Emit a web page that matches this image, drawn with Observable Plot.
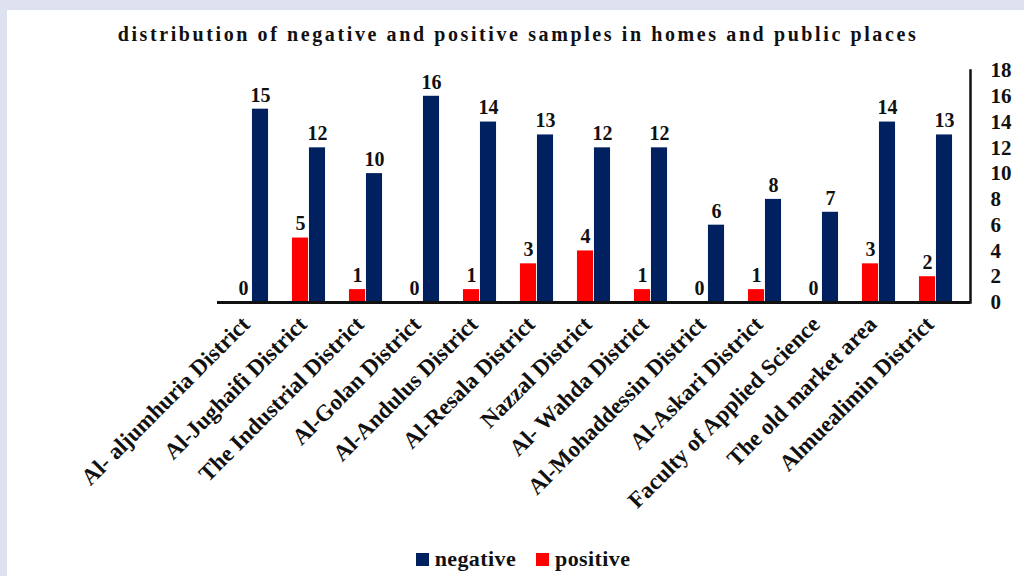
<!DOCTYPE html>
<html>
<head>
<meta charset="utf-8">
<script src="https://cdn.jsdelivr.net/npm/d3@7"></script>
<script src="https://cdn.jsdelivr.net/npm/@observablehq/plot@0.6"></script>
<style>
  html, body { margin: 0; padding: 0; width: 1024px; height: 576px; overflow: hidden; background: #dde1f0; }
  #panel { position: absolute; left: 7px; top: 10px; width: 1017px; height: 566px; background: #ffffff; }
  #title { position: absolute; left: 6px; top: 22px; width: 1024px; text-align: center;
    font-family: "Liberation Serif", "Times New Roman", serif; font-weight: bold; font-size: 20px; letter-spacing: 2.6px; color: #111; line-height: 24px; }
  #chart { position: absolute; left: 0; top: 50px; }
  #legend { position: absolute; left: 0; top: 546px; width: 1046px; text-align: center;
    font-family: "Liberation Serif", "Times New Roman", serif; font-weight: bold; font-size: 22px; letter-spacing: 0.4px; color: #111; line-height: 26px; }
  .item { display: inline-block; margin: 0 10px; }
  .sw { display: inline-block; width: 13px; height: 13px; margin-right: 6px; vertical-align: 0px; }
</style>
</head>
<body>
<div id="panel"></div>
<div id="title"></div>
<div id="chart"></div>
<div id="legend"></div>
<script>
const title = "distribution of negative and positive samples in homes and public places";
const categories = [
  "Al- aljumhuria District",
  "Al-Jughaifi District",
  "The Industrial District",
  "Al-Golan District",
  "Al-Andulus District",
  "Al-Resala District",
  "Nazzal District",
  "Al- Wahda District",
  "Al-Mohaddessin District",
  "Al-Askari District",
  "Faculty of Applied Science",
  "The old market area",
  "Almuealimin District"
];
const negative = [15, 12, 10, 16, 14, 13, 12, 12, 6, 8, 7, 14, 13];
const positive = [0, 5, 1, 0, 1, 3, 4, 1, 0, 1, 0, 3, 2];
const yTicks = [0, 2, 4, 6, 8, 10, 12, 14, 16, 18];
const seriesNames = ["negative", "positive"];
const seriesColors = ["#002060", "#ff0000"];

const rows = categories.map((c, i) => ({category: c, negative: negative[i], positive: positive[i]}));

const width = 1024, height = 470;
const mL = 217, mR = 54, mT = 20, mB = 218;
const step = (width - mL - mR) / categories.length;
const half = step / 2;
const bw = 17;

document.getElementById("title").textContent = title;

const chart = Plot.plot({
  width, height,
  marginLeft: mL, marginRight: mR, marginTop: mT, marginBottom: mB,
  style: {fontFamily: "'Liberation Serif', 'Times New Roman', serif", fontWeight: "bold", color: "#111", background: "transparent"},
  x: {domain: categories, padding: 0, label: null},
  y: {domain: [0, 18], label: null},
  marks: [
    Plot.barY(rows, {x: "category", y: "positive", fill: seriesColors[1], insetLeft: half - bw, insetRight: half}),
    Plot.barY(rows, {x: "category", y: "negative", fill: seriesColors[0], insetLeft: half, insetRight: half - bw}),
    Plot.text(rows, {x: "category", y: "positive", text: d => String(d.positive), dx: -bw / 2, dy: -14, fontSize: 20, fill: "#111"}),
    Plot.text(rows, {x: "category", y: "negative", text: d => String(d.negative), dx: bw / 2, dy: -14, fontSize: 20, fill: "#111"}),
    Plot.ruleY([0], {stroke: "#111", strokeWidth: 3}),
    Plot.frame({anchor: "right", stroke: "#111", strokeWidth: 2.5}),
    Plot.axisY({anchor: "right", ticks: yTicks, tickSize: 0, tickPadding: 20, fontSize: 21, label: null}),
    Plot.axisX({tickRotate: -45, tickSize: 0, tickPadding: 18, dx: -6, fontSize: 23, label: null})
  ]
});
document.getElementById("chart").appendChild(chart);

const legend = document.getElementById("legend");
seriesNames.forEach((n, i) => {
  const it = document.createElement("span");
  it.className = "item";
  const sw = document.createElement("span");
  sw.className = "sw";
  sw.style.background = seriesColors[i];
  it.appendChild(sw);
  it.appendChild(document.createTextNode(n));
  legend.appendChild(it);
});
</script>
</body>
</html>
